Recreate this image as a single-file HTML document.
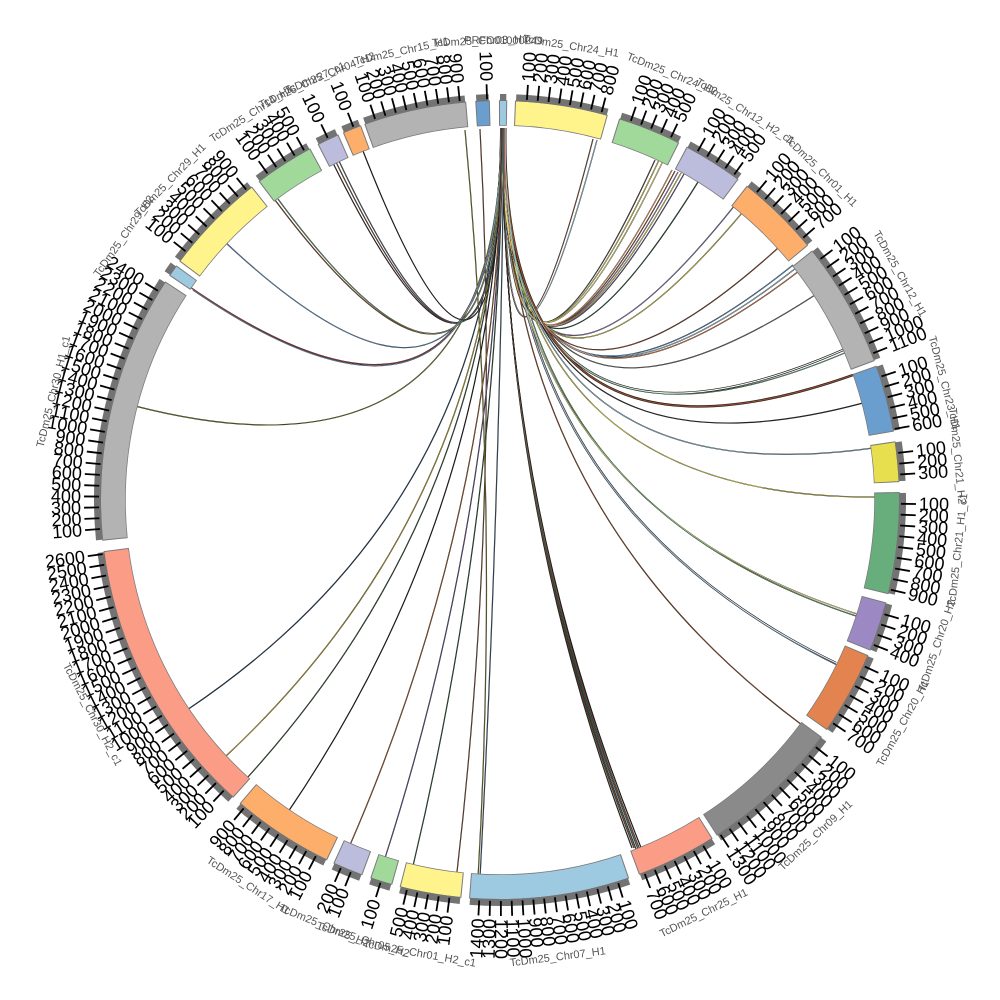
<!DOCTYPE html>
<html><head><meta charset="utf-8">
<style>
html,body{margin:0;padding:0;background:#fff;width:1000px;height:1000px;overflow:hidden}
svg{display:block}
.R text,.L text{font-family:"Liberation Sans",sans-serif;font-size:18px;fill:#000}
.R text{text-anchor:start}
.L text{text-anchor:end}
.R path,.L path{stroke:#000;stroke-width:1.8;fill:none}
.n{font-family:"Liberation Sans",sans-serif;font-size:11px;fill:#555;text-anchor:middle}
</style></head>
<body>
<svg width="1000" height="1000" viewBox="0 0 1000 1000" xmlns="http://www.w3.org/2000/svg">
<rect width="1000" height="1000" fill="#fff"/>

<!-- chords: black under-layer -->
<g fill="none" stroke="#111" stroke-width="1.2">
<path d="M505 128Q500 500 597 140"/>
<path d="M504.6 128Q500 500 593 139"/>
<path d="M504.8 128Q500 500 655 160"/>
<path d="M505.2 128Q500 500 659 160"/>
<path d="M505.4 128Q500 500 663 161"/>
<path d="M504.2 128Q500 500 672 170"/>
<path d="M504.4 128Q500 500 675 171"/>
<path d="M504 128Q500 500 678 172"/>
<path d="M503.8 128Q500 500 681 173"/>
<path d="M503.6 128Q500 500 684 174"/>
<path d="M503.4 128Q500 500 698 182"/>
<path d="M503.2 128Q500 500 735 205"/>
<path d="M503 128Q500 500 742 213"/>
<path d="M502.8 128Q500 500 778 248"/>
<path d="M502.6 128Q500 500 793 265"/>
<path d="M502.4 128Q500 500 796 268"/>
<path d="M502.2 128Q500 500 799 271"/>
<path d="M502 128Q500 500 815 295"/>
<path d="M501.8 128Q500 500 843 350" stroke-width="2.4"/>
<path d="M501.6 128Q500 500 847 352"/>
<path d="M505.3 128Q500 500 853 375" stroke-width="2.4"/>
<path d="M501.4 128Q500 500 863 403"/>
<path d="M501.2 128Q500 500 873 448"/>
<path d="M501 128Q500 500 877 497"/>
<path d="M500.8 128Q500 500 857 614"/>
<path d="M505.1 128Q500 500 859 617"/>
<path d="M504.9 128Q500 500 836 663" stroke-width="2.2"/>
<path d="M504.7 128Q500 500 839 666"/>
<path d="M504.5 128Q500 500 802 725"/>
<path d="M503.9 128Q500 500 632 848"/>
<path d="M503.7 128Q500 500 634 848"/>
<path d="M503.5 128Q500 500 636 849"/>
<path d="M503.3 128Q500 500 638 849"/>
<path d="M503.1 128Q500 500 640 850"/>
<path d="M502.9 128Q500 500 642 850"/>
<path d="M465 130Q500 500 478 878"/>
<path d="M480 129Q500 500 457 872"/>
<path d="M504 128Q500 500 480 878"/>
<path d="M502.7 128Q500 500 413 866"/>
<path d="M502.5 128Q500 500 385 858"/>
<path d="M502.3 128Q500 500 350 845"/>
<path d="M502.1 128Q500 500 288 812"/>
<path d="M501.9 128Q500 500 247 778"/>
<path d="M501.7 128Q500 500 225 757"/>
<path d="M501.5 128Q500 500 187 710"/>
<path d="M501.3 128Q500 500 135 406"/>
<path d="M501.1 128Q500 500 190 287"/>
<path d="M500.9 128Q500 500 193 290"/>
<path d="M500.7 128Q500 500 225 242"/>
<path d="M500.6 128Q500 500 275 200"/>
<path d="M500.8 128Q500 500 278 199"/>
<path d="M501 128Q500 500 333 163"/>
<path d="M501.2 128Q500 500 336 162"/>
<path d="M501.4 128Q500 500 339 161"/>
<path d="M501.6 128Q500 500 363 151"/>
</g>
<!-- chords: colour layer -->
<g fill="none" stroke-width="0.55">
<path d="M505 128Q500 500 597 140" stroke="#9ecae1"/>
<path d="M504.6 128Q500 500 593 139" stroke="#8c5a3c"/>
<path d="M504.8 128Q500 500 655 160" stroke="#555"/>
<path d="M505.2 128Q500 500 659 160" stroke="#e8df4e"/>
<path d="M505.4 128Q500 500 663 161" stroke="#fff38c"/>
<path d="M504.2 128Q500 500 672 170" stroke="#fdae6b"/>
<path d="M504.4 128Q500 500 675 171" stroke="#a0522d"/>
<path d="M504 128Q500 500 678 172" stroke="#9c89c4"/>
<path d="M503.8 128Q500 500 681 173" stroke="#e8df4e"/>
<path d="M503.6 128Q500 500 684 174" stroke="#6a5a9a"/>
<path d="M503.4 128Q500 500 698 182" stroke="#2f5e3a"/>
<path d="M503.2 128Q500 500 735 205" stroke="#9c89c4"/>
<path d="M503 128Q500 500 742 213" stroke="#e8df4e"/>
<path d="M502.8 128Q500 500 778 248" stroke="#a0522d"/>
<path d="M502.6 128Q500 500 793 265" stroke="#6a9ecf"/>
<path d="M502.4 128Q500 500 796 268" stroke="#9ecae1"/>
<path d="M502.2 128Q500 500 799 271" stroke="#e3834f"/>
<path d="M502 128Q500 500 815 295" stroke="#777"/>
<path d="M501.8 128Q500 500 843 350" stroke="#f4f4f4" stroke-width="1.2"/>
<path d="M501.6 128Q500 500 847 352" stroke="#68ae7c"/>
<path d="M505.3 128Q500 500 853 375" stroke="#8c4a2f" stroke-width="1.4"/>
<path d="M501.4 128Q500 500 863 403" stroke="#333"/>
<path d="M501.2 128Q500 500 873 448" stroke="#9ecae1"/>
<path d="M501 128Q500 500 877 497" stroke="#e8df4e"/>
<path d="M500.8 128Q500 500 857 614" stroke="#fff38c"/>
<path d="M505.1 128Q500 500 859 617" stroke="#68ae7c"/>
<path d="M504.9 128Q500 500 836 663" stroke="#e6eef6" stroke-width="1.1"/>
<path d="M504.7 128Q500 500 839 666" stroke="#6a8ea8"/>
<path d="M504.5 128Q500 500 802 725" stroke="#a0522d"/>
<path d="M503.9 128Q500 500 632 848" stroke="#333"/>
<path d="M503.7 128Q500 500 634 848" stroke="#8c4a2f"/>
<path d="M503.5 128Q500 500 636 849" stroke="#2f5e3a"/>
<path d="M503.3 128Q500 500 638 849" stroke="#4a6a80"/>
<path d="M503.1 128Q500 500 640 850" stroke="#a0522d"/>
<path d="M502.9 128Q500 500 642 850" stroke="#222"/>
<path d="M465 130Q500 500 478 878" stroke="#8a8a30"/>
<path d="M480 129Q500 500 457 872" stroke="#8c5a3c"/>
<path d="M504 128Q500 500 480 878" stroke="#4a6a80"/>
<path d="M502.7 128Q500 500 413 866" stroke="#2f5e3a"/>
<path d="M502.5 128Q500 500 385 858" stroke="#6a5a9a"/>
<path d="M502.3 128Q500 500 350 845" stroke="#b0622d"/>
<path d="M502.1 128Q500 500 288 812" stroke="#222"/>
<path d="M501.9 128Q500 500 247 778" stroke="#3a5a3a"/>
<path d="M501.7 128Q500 500 225 757" stroke="#c8b030"/>
<path d="M501.5 128Q500 500 187 710" stroke="#2a4a6a"/>
<path d="M501.3 128Q500 500 135 406" stroke="#8a8a30"/>
<path d="M501.1 128Q500 500 190 287" stroke="#c04030"/>
<path d="M500.9 128Q500 500 193 290" stroke="#6a9ecf"/>
<path d="M500.7 128Q500 500 225 242" stroke="#6a9ecf"/>
<path d="M500.6 128Q500 500 275 200" stroke="#a0522d"/>
<path d="M500.8 128Q500 500 278 199" stroke="#68ae7c"/>
<path d="M501 128Q500 500 333 163" stroke="#333"/>
<path d="M501.2 128Q500 500 336 162" stroke="#8c4a2f"/>
<path d="M501.4 128Q500 500 339 161" stroke="#4a6a80"/>
<path d="M501.6 128Q500 500 363 151" stroke="#222"/>
</g>

<!-- segments -->
<g fill="none">
<circle cx="500" cy="500" r="387" stroke="#7a7a7a" stroke-width="25.5" stroke-dasharray="8.08 3000" transform="rotate(-90.15 500 500)"/>
<circle cx="500" cy="500" r="387" stroke="#9ecae1" stroke-width="24" stroke-dasharray="6.08 3000" transform="rotate(-90 500 500)"/>
<circle cx="500" cy="500" r="402.5" stroke="#737373" stroke-width="7" stroke-dasharray="6.32 3000" transform="rotate(-90 500 500)"/>
<circle cx="500" cy="500" r="387" stroke="#7a7a7a" stroke-width="25.5" stroke-dasharray="91.16 3000" transform="rotate(-87.85 500 500)"/>
<circle cx="500" cy="500" r="387" stroke="#fff38c" stroke-width="24" stroke-dasharray="89.16 3000" transform="rotate(-87.7 500 500)"/>
<circle cx="500" cy="500" r="402.5" stroke="#737373" stroke-width="7" stroke-dasharray="92.73 3000" transform="rotate(-87.7 500 500)"/>
<circle cx="500" cy="500" r="387" stroke="#7a7a7a" stroke-width="25.5" stroke-dasharray="62.79 3000" transform="rotate(-72.65 500 500)"/>
<circle cx="500" cy="500" r="387" stroke="#a1d99b" stroke-width="24" stroke-dasharray="60.79 3000" transform="rotate(-72.5 500 500)"/>
<circle cx="500" cy="500" r="402.5" stroke="#737373" stroke-width="7" stroke-dasharray="63.23 3000" transform="rotate(-72.5 500 500)"/>
<circle cx="500" cy="500" r="387" stroke="#7a7a7a" stroke-width="25.5" stroke-dasharray="59.41 3000" transform="rotate(-62.15 500 500)"/>
<circle cx="500" cy="500" r="387" stroke="#bcbddc" stroke-width="24" stroke-dasharray="57.41 3000" transform="rotate(-62 500 500)"/>
<circle cx="500" cy="500" r="402.5" stroke="#737373" stroke-width="7" stroke-dasharray="59.71 3000" transform="rotate(-62 500 500)"/>
<circle cx="500" cy="500" r="387" stroke="#7a7a7a" stroke-width="25.5" stroke-dasharray="83.05 3000" transform="rotate(-51.85 500 500)"/>
<circle cx="500" cy="500" r="387" stroke="#fdae6b" stroke-width="24" stroke-dasharray="81.05 3000" transform="rotate(-51.7 500 500)"/>
<circle cx="500" cy="500" r="402.5" stroke="#737373" stroke-width="7" stroke-dasharray="84.3 3000" transform="rotate(-51.7 500 500)"/>
<circle cx="500" cy="500" r="387" stroke="#7a7a7a" stroke-width="25.5" stroke-dasharray="123.58 3000" transform="rotate(-38.65 500 500)"/>
<circle cx="500" cy="500" r="387" stroke="#b3b3b3" stroke-width="24" stroke-dasharray="121.58 3000" transform="rotate(-38.5 500 500)"/>
<circle cx="500" cy="500" r="402.5" stroke="#737373" stroke-width="7" stroke-dasharray="126.45 3000" transform="rotate(-38.5 500 500)"/>
<circle cx="500" cy="500" r="387" stroke="#7a7a7a" stroke-width="25.5" stroke-dasharray="66.17 3000" transform="rotate(-19.65 500 500)"/>
<circle cx="500" cy="500" r="387" stroke="#6a9ecf" stroke-width="24" stroke-dasharray="64.17 3000" transform="rotate(-19.5 500 500)"/>
<circle cx="500" cy="500" r="402.5" stroke="#737373" stroke-width="7" stroke-dasharray="66.74 3000" transform="rotate(-19.5 500 500)"/>
<circle cx="500" cy="500" r="387" stroke="#7a7a7a" stroke-width="25.5" stroke-dasharray="39.82 3000" transform="rotate(-8.45 500 500)"/>
<circle cx="500" cy="500" r="387" stroke="#e8df4e" stroke-width="24" stroke-dasharray="37.82 3000" transform="rotate(-8.3 500 500)"/>
<circle cx="500" cy="500" r="402.5" stroke="#737373" stroke-width="7" stroke-dasharray="39.34 3000" transform="rotate(-8.3 500 500)"/>
<circle cx="500" cy="500" r="387" stroke="#7a7a7a" stroke-width="25.5" stroke-dasharray="99.94 3000" transform="rotate(-1.15 500 500)"/>
<circle cx="500" cy="500" r="387" stroke="#68ae7c" stroke-width="24" stroke-dasharray="97.94 3000" transform="rotate(-1 500 500)"/>
<circle cx="500" cy="500" r="402.5" stroke="#737373" stroke-width="7" stroke-dasharray="101.86 3000" transform="rotate(-1 500 500)"/>
<circle cx="500" cy="500" r="387" stroke="#7a7a7a" stroke-width="25.5" stroke-dasharray="49.28 3000" transform="rotate(14.85 500 500)"/>
<circle cx="500" cy="500" r="387" stroke="#9c89c4" stroke-width="24" stroke-dasharray="47.28 3000" transform="rotate(15 500 500)"/>
<circle cx="500" cy="500" r="402.5" stroke="#737373" stroke-width="7" stroke-dasharray="49.18 3000" transform="rotate(15 500 500)"/>
<circle cx="500" cy="500" r="387" stroke="#7a7a7a" stroke-width="25.5" stroke-dasharray="83.05 3000" transform="rotate(22.85 500 500)"/>
<circle cx="500" cy="500" r="387" stroke="#e3834f" stroke-width="24" stroke-dasharray="81.05 3000" transform="rotate(23 500 500)"/>
<circle cx="500" cy="500" r="402.5" stroke="#737373" stroke-width="7" stroke-dasharray="84.3 3000" transform="rotate(23 500 500)"/>
<circle cx="500" cy="500" r="387" stroke="#7a7a7a" stroke-width="25.5" stroke-dasharray="140.47 3000" transform="rotate(36.35 500 500)"/>
<circle cx="500" cy="500" r="387" stroke="#8a8a8a" stroke-width="24" stroke-dasharray="138.47 3000" transform="rotate(36.5 500 500)"/>
<circle cx="500" cy="500" r="402.5" stroke="#737373" stroke-width="7" stroke-dasharray="144.01 3000" transform="rotate(36.5 500 500)"/>
<circle cx="500" cy="500" r="387" stroke="#7a7a7a" stroke-width="25.5" stroke-dasharray="79.68 3000" transform="rotate(57.85 500 500)"/>
<circle cx="500" cy="500" r="387" stroke="#fb9c86" stroke-width="24" stroke-dasharray="77.68 3000" transform="rotate(58 500 500)"/>
<circle cx="500" cy="500" r="402.5" stroke="#737373" stroke-width="7" stroke-dasharray="80.79 3000" transform="rotate(58 500 500)"/>
<circle cx="500" cy="500" r="387" stroke="#7a7a7a" stroke-width="25.5" stroke-dasharray="157.35 3000" transform="rotate(71.15 500 500)"/>
<circle cx="500" cy="500" r="387" stroke="#9ecae1" stroke-width="24" stroke-dasharray="155.35 3000" transform="rotate(71.3 500 500)"/>
<circle cx="500" cy="500" r="402.5" stroke="#737373" stroke-width="7" stroke-dasharray="161.58 3000" transform="rotate(71.3 500 500)"/>
<circle cx="500" cy="500" r="387" stroke="#7a7a7a" stroke-width="25.5" stroke-dasharray="60.76 3000" transform="rotate(95.55 500 500)"/>
<circle cx="500" cy="500" r="387" stroke="#fff38c" stroke-width="24" stroke-dasharray="58.76 3000" transform="rotate(95.7 500 500)"/>
<circle cx="500" cy="500" r="402.5" stroke="#737373" stroke-width="7" stroke-dasharray="61.12 3000" transform="rotate(95.7 500 500)"/>
<circle cx="500" cy="500" r="387" stroke="#7a7a7a" stroke-width="25.5" stroke-dasharray="22.26 3000" transform="rotate(105.65 500 500)"/>
<circle cx="500" cy="500" r="387" stroke="#a1d99b" stroke-width="24" stroke-dasharray="20.26 3000" transform="rotate(105.8 500 500)"/>
<circle cx="500" cy="500" r="402.5" stroke="#737373" stroke-width="7" stroke-dasharray="21.08 3000" transform="rotate(105.8 500 500)"/>
<circle cx="500" cy="500" r="387" stroke="#7a7a7a" stroke-width="25.5" stroke-dasharray="30.37 3000" transform="rotate(110.15 500 500)"/>
<circle cx="500" cy="500" r="387" stroke="#bcbddc" stroke-width="24" stroke-dasharray="28.37 3000" transform="rotate(110.3 500 500)"/>
<circle cx="500" cy="500" r="402.5" stroke="#737373" stroke-width="7" stroke-dasharray="29.51 3000" transform="rotate(110.3 500 500)"/>
<circle cx="500" cy="500" r="387" stroke="#7a7a7a" stroke-width="25.5" stroke-dasharray="101.29 3000" transform="rotate(115.65 500 500)"/>
<circle cx="500" cy="500" r="387" stroke="#fdae6b" stroke-width="24" stroke-dasharray="99.29 3000" transform="rotate(115.8 500 500)"/>
<circle cx="500" cy="500" r="402.5" stroke="#737373" stroke-width="7" stroke-dasharray="103.27 3000" transform="rotate(115.8 500 500)"/>
<circle cx="500" cy="500" r="387" stroke="#7a7a7a" stroke-width="25.5" stroke-dasharray="275.55 3000" transform="rotate(131.85 500 500)"/>
<circle cx="500" cy="500" r="387" stroke="#fb9c86" stroke-width="24" stroke-dasharray="273.55 3000" transform="rotate(132 500 500)"/>
<circle cx="500" cy="500" r="402.5" stroke="#737373" stroke-width="7" stroke-dasharray="284.51 3000" transform="rotate(132 500 500)"/>
<circle cx="500" cy="500" r="387" stroke="#7a7a7a" stroke-width="25.5" stroke-dasharray="263.39 3000" transform="rotate(174.15 500 500)"/>
<circle cx="500" cy="500" r="387" stroke="#b3b3b3" stroke-width="24" stroke-dasharray="261.39 3000" transform="rotate(174.3 500 500)"/>
<circle cx="500" cy="500" r="402.5" stroke="#737373" stroke-width="7" stroke-dasharray="271.87 3000" transform="rotate(174.3 500 500)"/>
<circle cx="500" cy="500" r="387" stroke="#7a7a7a" stroke-width="25.5" stroke-dasharray="12.13 3000" transform="rotate(214.15 500 500)"/>
<circle cx="500" cy="500" r="387" stroke="#9ecae1" stroke-width="24" stroke-dasharray="10.13 3000" transform="rotate(214.3 500 500)"/>
<circle cx="500" cy="500" r="402.5" stroke="#737373" stroke-width="7" stroke-dasharray="10.54 3000" transform="rotate(214.3 500 500)"/>
<circle cx="500" cy="500" r="387" stroke="#7a7a7a" stroke-width="25.5" stroke-dasharray="101.29 3000" transform="rotate(216.65 500 500)"/>
<circle cx="500" cy="500" r="387" stroke="#fff38c" stroke-width="24" stroke-dasharray="99.29 3000" transform="rotate(216.8 500 500)"/>
<circle cx="500" cy="500" r="402.5" stroke="#737373" stroke-width="7" stroke-dasharray="103.27 3000" transform="rotate(216.8 500 500)"/>
<circle cx="500" cy="500" r="387" stroke="#7a7a7a" stroke-width="25.5" stroke-dasharray="59.41 3000" transform="rotate(232.85 500 500)"/>
<circle cx="500" cy="500" r="387" stroke="#a1d99b" stroke-width="24" stroke-dasharray="57.41 3000" transform="rotate(233 500 500)"/>
<circle cx="500" cy="500" r="402.5" stroke="#737373" stroke-width="7" stroke-dasharray="59.71 3000" transform="rotate(233 500 500)"/>
<circle cx="500" cy="500" r="387" stroke="#7a7a7a" stroke-width="25.5" stroke-dasharray="22.26 3000" transform="rotate(242.85 500 500)"/>
<circle cx="500" cy="500" r="387" stroke="#bcbddc" stroke-width="24" stroke-dasharray="20.26 3000" transform="rotate(243 500 500)"/>
<circle cx="500" cy="500" r="402.5" stroke="#737373" stroke-width="7" stroke-dasharray="21.08 3000" transform="rotate(243 500 500)"/>
<circle cx="500" cy="500" r="387" stroke="#7a7a7a" stroke-width="25.5" stroke-dasharray="18.89 3000" transform="rotate(246.85 500 500)"/>
<circle cx="500" cy="500" r="387" stroke="#fdae6b" stroke-width="24" stroke-dasharray="16.89 3000" transform="rotate(247 500 500)"/>
<circle cx="500" cy="500" r="402.5" stroke="#737373" stroke-width="7" stroke-dasharray="17.56 3000" transform="rotate(247 500 500)"/>
<circle cx="500" cy="500" r="387" stroke="#7a7a7a" stroke-width="25.5" stroke-dasharray="101.29 3000" transform="rotate(250.15 500 500)"/>
<circle cx="500" cy="500" r="387" stroke="#b3b3b3" stroke-width="24" stroke-dasharray="99.29 3000" transform="rotate(250.3 500 500)"/>
<circle cx="500" cy="500" r="402.5" stroke="#737373" stroke-width="7" stroke-dasharray="103.27 3000" transform="rotate(250.3 500 500)"/>
<circle cx="500" cy="500" r="387" stroke="#7a7a7a" stroke-width="25.5" stroke-dasharray="14.16 3000" transform="rotate(266.45 500 500)"/>
<circle cx="500" cy="500" r="387" stroke="#6a9ecf" stroke-width="24" stroke-dasharray="12.16 3000" transform="rotate(266.6 500 500)"/>
<circle cx="500" cy="500" r="402.5" stroke="#737373" stroke-width="7" stroke-dasharray="12.65 3000" transform="rotate(266.6 500 500)"/>
</g>

<!-- ticks & tick labels: right half -->
<g class="R" transform="rotate(-86.152 500 500)"><path d="M901 500h15"/><text x="919" y="506">100</text>
<g transform="rotate(1.548 500 500)"><path d="M901 500h15"/><text x="919" y="506">200</text>
<g transform="rotate(1.548 500 500)"><path d="M901 500h15"/><text x="919" y="506">300</text>
<g transform="rotate(1.548 500 500)"><path d="M901 500h15"/><text x="919" y="506">400</text>
<g transform="rotate(1.548 500 500)"><path d="M901 500h15"/><text x="919" y="506">500</text>
<g transform="rotate(1.548 500 500)"><path d="M901 500h15"/><text x="919" y="506">600</text>
<g transform="rotate(1.548 500 500)"><path d="M901 500h15"/><text x="919" y="506">700</text>
<g transform="rotate(1.548 500 500)"><path d="M901 500h15"/><text x="919" y="506">800</text>
</g></g></g></g></g></g></g></g>
<g class="R" transform="rotate(-70.952 500 500)"><path d="M901 500h15"/><text x="919" y="506">100</text>
<g transform="rotate(1.548 500 500)"><path d="M901 500h15"/><text x="919" y="506">200</text>
<g transform="rotate(1.548 500 500)"><path d="M901 500h15"/><text x="919" y="506">300</text>
<g transform="rotate(1.548 500 500)"><path d="M901 500h15"/><text x="919" y="506">400</text>
<g transform="rotate(1.548 500 500)"><path d="M901 500h15"/><text x="919" y="506">500</text>
</g></g></g></g></g>
<g class="R" transform="rotate(-60.452 500 500)"><path d="M901 500h15"/><text x="919" y="506">100</text>
<g transform="rotate(1.548 500 500)"><path d="M901 500h15"/><text x="919" y="506">200</text>
<g transform="rotate(1.548 500 500)"><path d="M901 500h15"/><text x="919" y="506">300</text>
<g transform="rotate(1.548 500 500)"><path d="M901 500h15"/><text x="919" y="506">400</text>
<g transform="rotate(1.548 500 500)"><path d="M901 500h15"/><text x="919" y="506">500</text>
</g></g></g></g></g>
<g class="R" transform="rotate(-50.152 500 500)"><path d="M901 500h15"/><text x="919" y="506">100</text>
<g transform="rotate(1.548 500 500)"><path d="M901 500h15"/><text x="919" y="506">200</text>
<g transform="rotate(1.548 500 500)"><path d="M901 500h15"/><text x="919" y="506">300</text>
<g transform="rotate(1.548 500 500)"><path d="M901 500h15"/><text x="919" y="506">400</text>
<g transform="rotate(1.548 500 500)"><path d="M901 500h15"/><text x="919" y="506">500</text>
<g transform="rotate(1.548 500 500)"><path d="M901 500h15"/><text x="919" y="506">600</text>
<g transform="rotate(1.548 500 500)"><path d="M901 500h15"/><text x="919" y="506">700</text>
</g></g></g></g></g></g></g>
<g class="R" transform="rotate(-36.952 500 500)"><path d="M901 500h15"/><text x="919" y="506">100</text>
<g transform="rotate(1.548 500 500)"><path d="M901 500h15"/><text x="919" y="506">200</text>
<g transform="rotate(1.548 500 500)"><path d="M901 500h15"/><text x="919" y="506">300</text>
<g transform="rotate(1.548 500 500)"><path d="M901 500h15"/><text x="919" y="506">400</text>
<g transform="rotate(1.548 500 500)"><path d="M901 500h15"/><text x="919" y="506">500</text>
<g transform="rotate(1.548 500 500)"><path d="M901 500h15"/><text x="919" y="506">600</text>
<g transform="rotate(1.548 500 500)"><path d="M901 500h15"/><text x="919" y="506">700</text>
<g transform="rotate(1.548 500 500)"><path d="M901 500h15"/><text x="919" y="506">800</text>
<g transform="rotate(1.548 500 500)"><path d="M901 500h15"/><text x="919" y="506">900</text>
<g transform="rotate(1.548 500 500)"><path d="M901 500h15"/><text x="919" y="506">1000</text>
<g transform="rotate(1.548 500 500)"><path d="M901 500h15"/><text x="919" y="506">1100</text>
</g></g></g></g></g></g></g></g></g></g></g>
<g class="R" transform="rotate(-17.952 500 500)"><path d="M901 500h15"/><text x="919" y="506">100</text>
<g transform="rotate(1.548 500 500)"><path d="M901 500h15"/><text x="919" y="506">200</text>
<g transform="rotate(1.548 500 500)"><path d="M901 500h15"/><text x="919" y="506">300</text>
<g transform="rotate(1.548 500 500)"><path d="M901 500h15"/><text x="919" y="506">400</text>
<g transform="rotate(1.548 500 500)"><path d="M901 500h15"/><text x="919" y="506">500</text>
<g transform="rotate(1.548 500 500)"><path d="M901 500h15"/><text x="919" y="506">600</text>
</g></g></g></g></g></g>
<g class="R" transform="rotate(-6.752 500 500)"><path d="M901 500h15"/><text x="919" y="506">100</text>
<g transform="rotate(1.548 500 500)"><path d="M901 500h15"/><text x="919" y="506">200</text>
<g transform="rotate(1.548 500 500)"><path d="M901 500h15"/><text x="919" y="506">300</text>
</g></g></g>
<g class="R" transform="rotate(0.548 500 500)"><path d="M901 500h15"/><text x="919" y="506">100</text>
<g transform="rotate(1.548 500 500)"><path d="M901 500h15"/><text x="919" y="506">200</text>
<g transform="rotate(1.548 500 500)"><path d="M901 500h15"/><text x="919" y="506">300</text>
<g transform="rotate(1.548 500 500)"><path d="M901 500h15"/><text x="919" y="506">400</text>
<g transform="rotate(1.548 500 500)"><path d="M901 500h15"/><text x="919" y="506">500</text>
<g transform="rotate(1.548 500 500)"><path d="M901 500h15"/><text x="919" y="506">600</text>
<g transform="rotate(1.548 500 500)"><path d="M901 500h15"/><text x="919" y="506">700</text>
<g transform="rotate(1.548 500 500)"><path d="M901 500h15"/><text x="919" y="506">800</text>
<g transform="rotate(1.548 500 500)"><path d="M901 500h15"/><text x="919" y="506">900</text>
</g></g></g></g></g></g></g></g></g>
<g class="R" transform="rotate(16.548 500 500)"><path d="M901 500h15"/><text x="919" y="506">100</text>
<g transform="rotate(1.548 500 500)"><path d="M901 500h15"/><text x="919" y="506">200</text>
<g transform="rotate(1.548 500 500)"><path d="M901 500h15"/><text x="919" y="506">300</text>
<g transform="rotate(1.548 500 500)"><path d="M901 500h15"/><text x="919" y="506">400</text>
</g></g></g></g>
<g class="R" transform="rotate(24.548 500 500)"><path d="M901 500h15"/><text x="919" y="506">100</text>
<g transform="rotate(1.548 500 500)"><path d="M901 500h15"/><text x="919" y="506">200</text>
<g transform="rotate(1.548 500 500)"><path d="M901 500h15"/><text x="919" y="506">300</text>
<g transform="rotate(1.548 500 500)"><path d="M901 500h15"/><text x="919" y="506">400</text>
<g transform="rotate(1.548 500 500)"><path d="M901 500h15"/><text x="919" y="506">500</text>
<g transform="rotate(1.548 500 500)"><path d="M901 500h15"/><text x="919" y="506">600</text>
<g transform="rotate(1.548 500 500)"><path d="M901 500h15"/><text x="919" y="506">700</text>
</g></g></g></g></g></g></g>
<g class="R" transform="rotate(38.048 500 500)"><path d="M901 500h15"/><text x="919" y="506">100</text>
<g transform="rotate(1.548 500 500)"><path d="M901 500h15"/><text x="919" y="506">200</text>
<g transform="rotate(1.548 500 500)"><path d="M901 500h15"/><text x="919" y="506">300</text>
<g transform="rotate(1.548 500 500)"><path d="M901 500h15"/><text x="919" y="506">400</text>
<g transform="rotate(1.548 500 500)"><path d="M901 500h15"/><text x="919" y="506">500</text>
<g transform="rotate(1.548 500 500)"><path d="M901 500h15"/><text x="919" y="506">600</text>
<g transform="rotate(1.548 500 500)"><path d="M901 500h15"/><text x="919" y="506">700</text>
<g transform="rotate(1.548 500 500)"><path d="M901 500h15"/><text x="919" y="506">800</text>
<g transform="rotate(1.548 500 500)"><path d="M901 500h15"/><text x="919" y="506">900</text>
<g transform="rotate(1.548 500 500)"><path d="M901 500h15"/><text x="919" y="506">1000</text>
<g transform="rotate(1.548 500 500)"><path d="M901 500h15"/><text x="919" y="506">1100</text>
<g transform="rotate(1.548 500 500)"><path d="M901 500h15"/><text x="919" y="506">1200</text>
<g transform="rotate(1.548 500 500)"><path d="M901 500h15"/><text x="919" y="506">1300</text>
</g></g></g></g></g></g></g></g></g></g></g></g></g>
<g class="R" transform="rotate(59.548 500 500)"><path d="M901 500h15"/><text x="919" y="506">100</text>
<g transform="rotate(1.548 500 500)"><path d="M901 500h15"/><text x="919" y="506">200</text>
<g transform="rotate(1.548 500 500)"><path d="M901 500h15"/><text x="919" y="506">300</text>
<g transform="rotate(1.548 500 500)"><path d="M901 500h15"/><text x="919" y="506">400</text>
<g transform="rotate(1.548 500 500)"><path d="M901 500h15"/><text x="919" y="506">500</text>
<g transform="rotate(1.548 500 500)"><path d="M901 500h15"/><text x="919" y="506">600</text>
<g transform="rotate(1.548 500 500)"><path d="M901 500h15"/><text x="919" y="506">700</text>
</g></g></g></g></g></g></g>
<g class="R" transform="rotate(72.848 500 500)"><path d="M901 500h15"/><text x="919" y="506">100</text>
<g transform="rotate(1.548 500 500)"><path d="M901 500h15"/><text x="919" y="506">200</text>
<g transform="rotate(1.548 500 500)"><path d="M901 500h15"/><text x="919" y="506">300</text>
<g transform="rotate(1.548 500 500)"><path d="M901 500h15"/><text x="919" y="506">400</text>
<g transform="rotate(1.548 500 500)"><path d="M901 500h15"/><text x="919" y="506">500</text>
<g transform="rotate(1.548 500 500)"><path d="M901 500h15"/><text x="919" y="506">600</text>
<g transform="rotate(1.548 500 500)"><path d="M901 500h15"/><text x="919" y="506">700</text>
<g transform="rotate(1.548 500 500)"><path d="M901 500h15"/><text x="919" y="506">800</text>
<g transform="rotate(1.548 500 500)"><path d="M901 500h15"/><text x="919" y="506">900</text>
<g transform="rotate(1.548 500 500)"><path d="M901 500h15"/><text x="919" y="506">1000</text>
<g transform="rotate(1.548 500 500)"><path d="M901 500h15"/><text x="919" y="506">1100</text>
<g transform="rotate(1.548 500 500)"><path d="M901 500h15"/><text x="919" y="506">1200</text>
</g></g></g></g></g></g></g></g></g></g></g></g>

<!-- left half -->
<g class="L" transform="rotate(271.424 500 500)"><path d="M99 500h-15"/><text x="81" y="506">1300</text>
<g transform="rotate(1.548 500 500)"><path d="M99 500h-15"/><text x="81" y="506">1400</text>
</g></g>
<g class="L" transform="rotate(277.248 500 500)"><path d="M99 500h-15"/><text x="81" y="506">100</text>
<g transform="rotate(1.548 500 500)"><path d="M99 500h-15"/><text x="81" y="506">200</text>
<g transform="rotate(1.548 500 500)"><path d="M99 500h-15"/><text x="81" y="506">300</text>
<g transform="rotate(1.548 500 500)"><path d="M99 500h-15"/><text x="81" y="506">400</text>
<g transform="rotate(1.548 500 500)"><path d="M99 500h-15"/><text x="81" y="506">500</text>
</g></g></g></g></g>
<g class="L" transform="rotate(287.348 500 500)"><path d="M99 500h-15"/><text x="81" y="506">100</text></g>
<g class="L" transform="rotate(291.848 500 500)"><path d="M99 500h-15"/><text x="81" y="506">100</text>
<g transform="rotate(1.548 500 500)"><path d="M99 500h-15"/><text x="81" y="506">200</text>
</g></g>
<g class="L" transform="rotate(297.348 500 500)"><path d="M99 500h-15"/><text x="81" y="506">100</text>
<g transform="rotate(1.548 500 500)"><path d="M99 500h-15"/><text x="81" y="506">200</text>
<g transform="rotate(1.548 500 500)"><path d="M99 500h-15"/><text x="81" y="506">300</text>
<g transform="rotate(1.548 500 500)"><path d="M99 500h-15"/><text x="81" y="506">400</text>
<g transform="rotate(1.548 500 500)"><path d="M99 500h-15"/><text x="81" y="506">500</text>
<g transform="rotate(1.548 500 500)"><path d="M99 500h-15"/><text x="81" y="506">600</text>
<g transform="rotate(1.548 500 500)"><path d="M99 500h-15"/><text x="81" y="506">700</text>
<g transform="rotate(1.548 500 500)"><path d="M99 500h-15"/><text x="81" y="506">800</text>
<g transform="rotate(1.548 500 500)"><path d="M99 500h-15"/><text x="81" y="506">900</text>
</g></g></g></g></g></g></g></g></g>
<g class="L" transform="rotate(313.548 500 500)"><path d="M99 500h-15"/><text x="81" y="506">100</text>
<g transform="rotate(1.548 500 500)"><path d="M99 500h-15"/><text x="81" y="506">200</text>
<g transform="rotate(1.548 500 500)"><path d="M99 500h-15"/><text x="81" y="506">300</text>
<g transform="rotate(1.548 500 500)"><path d="M99 500h-15"/><text x="81" y="506">400</text>
<g transform="rotate(1.548 500 500)"><path d="M99 500h-15"/><text x="81" y="506">500</text>
<g transform="rotate(1.548 500 500)"><path d="M99 500h-15"/><text x="81" y="506">600</text>
<g transform="rotate(1.548 500 500)"><path d="M99 500h-15"/><text x="81" y="506">700</text>
<g transform="rotate(1.548 500 500)"><path d="M99 500h-15"/><text x="81" y="506">800</text>
<g transform="rotate(1.548 500 500)"><path d="M99 500h-15"/><text x="81" y="506">900</text>
<g transform="rotate(1.548 500 500)"><path d="M99 500h-15"/><text x="81" y="506">1000</text>
<g transform="rotate(1.548 500 500)"><path d="M99 500h-15"/><text x="81" y="506">1100</text>
<g transform="rotate(1.548 500 500)"><path d="M99 500h-15"/><text x="81" y="506">1200</text>
<g transform="rotate(1.548 500 500)"><path d="M99 500h-15"/><text x="81" y="506">1300</text>
<g transform="rotate(1.548 500 500)"><path d="M99 500h-15"/><text x="81" y="506">1400</text>
<g transform="rotate(1.548 500 500)"><path d="M99 500h-15"/><text x="81" y="506">1500</text>
<g transform="rotate(1.548 500 500)"><path d="M99 500h-15"/><text x="81" y="506">1600</text>
<g transform="rotate(1.548 500 500)"><path d="M99 500h-15"/><text x="81" y="506">1700</text>
<g transform="rotate(1.548 500 500)"><path d="M99 500h-15"/><text x="81" y="506">1800</text>
<g transform="rotate(1.548 500 500)"><path d="M99 500h-15"/><text x="81" y="506">1900</text>
<g transform="rotate(1.548 500 500)"><path d="M99 500h-15"/><text x="81" y="506">2000</text>
<g transform="rotate(1.548 500 500)"><path d="M99 500h-15"/><text x="81" y="506">2100</text>
<g transform="rotate(1.548 500 500)"><path d="M99 500h-15"/><text x="81" y="506">2200</text>
<g transform="rotate(1.548 500 500)"><path d="M99 500h-15"/><text x="81" y="506">2300</text>
<g transform="rotate(1.548 500 500)"><path d="M99 500h-15"/><text x="81" y="506">2400</text>
<g transform="rotate(1.548 500 500)"><path d="M99 500h-15"/><text x="81" y="506">2500</text>
<g transform="rotate(1.548 500 500)"><path d="M99 500h-15"/><text x="81" y="506">2600</text>
</g></g></g></g></g></g></g></g></g></g></g></g></g></g></g></g></g></g></g></g></g></g></g></g></g></g>
<g class="L" transform="rotate(355.848 500 500)"><path d="M99 500h-15"/><text x="81" y="506">100</text>
<g transform="rotate(1.548 500 500)"><path d="M99 500h-15"/><text x="81" y="506">200</text>
<g transform="rotate(1.548 500 500)"><path d="M99 500h-15"/><text x="81" y="506">300</text>
<g transform="rotate(1.548 500 500)"><path d="M99 500h-15"/><text x="81" y="506">400</text>
<g transform="rotate(1.548 500 500)"><path d="M99 500h-15"/><text x="81" y="506">500</text>
<g transform="rotate(1.548 500 500)"><path d="M99 500h-15"/><text x="81" y="506">600</text>
<g transform="rotate(1.548 500 500)"><path d="M99 500h-15"/><text x="81" y="506">700</text>
<g transform="rotate(1.548 500 500)"><path d="M99 500h-15"/><text x="81" y="506">800</text>
<g transform="rotate(1.548 500 500)"><path d="M99 500h-15"/><text x="81" y="506">900</text>
<g transform="rotate(1.548 500 500)"><path d="M99 500h-15"/><text x="81" y="506">1000</text>
<g transform="rotate(1.548 500 500)"><path d="M99 500h-15"/><text x="81" y="506">1100</text>
<g transform="rotate(1.548 500 500)"><path d="M99 500h-15"/><text x="81" y="506">1200</text>
<g transform="rotate(1.548 500 500)"><path d="M99 500h-15"/><text x="81" y="506">1300</text>
<g transform="rotate(1.548 500 500)"><path d="M99 500h-15"/><text x="81" y="506">1400</text>
<g transform="rotate(1.548 500 500)"><path d="M99 500h-15"/><text x="81" y="506">1500</text>
<g transform="rotate(1.548 500 500)"><path d="M99 500h-15"/><text x="81" y="506">1600</text>
<g transform="rotate(1.548 500 500)"><path d="M99 500h-15"/><text x="81" y="506">1700</text>
<g transform="rotate(1.548 500 500)"><path d="M99 500h-15"/><text x="81" y="506">1800</text>
<g transform="rotate(1.548 500 500)"><path d="M99 500h-15"/><text x="81" y="506">1900</text>
<g transform="rotate(1.548 500 500)"><path d="M99 500h-15"/><text x="81" y="506">2000</text>
<g transform="rotate(1.548 500 500)"><path d="M99 500h-15"/><text x="81" y="506">2100</text>
<g transform="rotate(1.548 500 500)"><path d="M99 500h-15"/><text x="81" y="506">2200</text>
<g transform="rotate(1.548 500 500)"><path d="M99 500h-15"/><text x="81" y="506">2300</text>
<g transform="rotate(1.548 500 500)"><path d="M99 500h-15"/><text x="81" y="506">2400</text>
</g></g></g></g></g></g></g></g></g></g></g></g></g></g></g></g></g></g></g></g></g></g></g></g>
<g class="L" transform="rotate(398.348 500 500)"><path d="M99 500h-15"/><text x="81" y="506">100</text>
<g transform="rotate(1.548 500 500)"><path d="M99 500h-15"/><text x="81" y="506">200</text>
<g transform="rotate(1.548 500 500)"><path d="M99 500h-15"/><text x="81" y="506">300</text>
<g transform="rotate(1.548 500 500)"><path d="M99 500h-15"/><text x="81" y="506">400</text>
<g transform="rotate(1.548 500 500)"><path d="M99 500h-15"/><text x="81" y="506">500</text>
<g transform="rotate(1.548 500 500)"><path d="M99 500h-15"/><text x="81" y="506">600</text>
<g transform="rotate(1.548 500 500)"><path d="M99 500h-15"/><text x="81" y="506">700</text>
<g transform="rotate(1.548 500 500)"><path d="M99 500h-15"/><text x="81" y="506">800</text>
<g transform="rotate(1.548 500 500)"><path d="M99 500h-15"/><text x="81" y="506">900</text>
</g></g></g></g></g></g></g></g></g>
<g class="L" transform="rotate(414.548 500 500)"><path d="M99 500h-15"/><text x="81" y="506">100</text>
<g transform="rotate(1.548 500 500)"><path d="M99 500h-15"/><text x="81" y="506">200</text>
<g transform="rotate(1.548 500 500)"><path d="M99 500h-15"/><text x="81" y="506">300</text>
<g transform="rotate(1.548 500 500)"><path d="M99 500h-15"/><text x="81" y="506">400</text>
<g transform="rotate(1.548 500 500)"><path d="M99 500h-15"/><text x="81" y="506">500</text>
</g></g></g></g></g>
<g class="L" transform="rotate(424.548 500 500)"><path d="M99 500h-15"/><text x="81" y="506">100</text></g>
<g class="L" transform="rotate(428.548 500 500)"><path d="M99 500h-15"/><text x="81" y="506">100</text></g>
<g class="L" transform="rotate(431.848 500 500)"><path d="M99 500h-15"/><text x="81" y="506">100</text>
<g transform="rotate(1.548 500 500)"><path d="M99 500h-15"/><text x="81" y="506">200</text>
<g transform="rotate(1.548 500 500)"><path d="M99 500h-15"/><text x="81" y="506">300</text>
<g transform="rotate(1.548 500 500)"><path d="M99 500h-15"/><text x="81" y="506">400</text>
<g transform="rotate(1.548 500 500)"><path d="M99 500h-15"/><text x="81" y="506">500</text>
<g transform="rotate(1.548 500 500)"><path d="M99 500h-15"/><text x="81" y="506">600</text>
<g transform="rotate(1.548 500 500)"><path d="M99 500h-15"/><text x="81" y="506">700</text>
<g transform="rotate(1.548 500 500)"><path d="M99 500h-15"/><text x="81" y="506">800</text>
<g transform="rotate(1.548 500 500)"><path d="M99 500h-15"/><text x="81" y="506">900</text>
</g></g></g></g></g></g></g></g></g>
<g class="L" transform="rotate(448.148 500 500)"><path d="M99 500h-15"/><text x="81" y="506">100</text></g>

<!-- chromosome names -->
<text class="n" x="500" y="44" transform="rotate(0.45 500 500)">PRFC01000249</text>
<text class="n" x="500" y="44" transform="rotate(8.9 500 500)">TcDm25_Chr24_H1</text>
<text class="n" x="500" y="44" transform="rotate(22 500 500)">TcDm25_Chr24_H2</text>
<text class="n" x="500" y="44" transform="rotate(32.25 500 500)">TcDm25_Chr12_H2_c1</text>
<text class="n" x="500" y="44" transform="rotate(44.3 500 500)">TcDm25_Chr01_H1</text>
<text class="n" x="500" y="44" transform="rotate(60.5 500 500)">TcDm25_Chr12_H1</text>
<text class="n" x="500" y="44" transform="rotate(75.25 500 500)">TcDm25_Chr23_H1</text>
<text class="n" x="500" y="44" transform="rotate(84.5 500 500)">TcDm25_Chr21_H2</text>
<text class="n" x="500" y="964" transform="rotate(-83.75 500 500)">TcDm25_Chr21_H1_c1</text>
<text class="n" x="500" y="964" transform="rotate(-71.5 500 500)">TcDm25_Chr20_H2</text>
<text class="n" x="500" y="964" transform="rotate(-61 500 500)">TcDm25_Chr20_H1</text>
<text class="n" x="500" y="964" transform="rotate(-43.25 500 500)">TcDm25_Chr09_H1</text>
<text class="n" x="500" y="964" transform="rotate(-26.25 500 500)">TcDm25_Chr25_H1</text>
<text class="n" x="500" y="964" transform="rotate(-7.2 500 500)">TcDm25_Chr07_H1</text>
<text class="n" x="500" y="964" transform="rotate(10.05 500 500)">TcDm25_Chr01_H2_c1</text>
<text class="n" x="500" y="964" transform="rotate(17.3 500 500)">TcDm25_Chr05_H2</text>
<text class="n" x="500" y="964" transform="rotate(22.4 500 500)">TcDm25_Chr25_H2</text>
<text class="n" x="500" y="964" transform="rotate(33.15 500 500)">TcDm25_Chr17_H1</text>
<text class="n" x="500" y="964" transform="rotate(62.25 500 500)">TcDm25_Chr30_H2_c1</text>
<text class="n" x="500" y="44" transform="rotate(-76.35 500 500)">TcDm25_Chr30_H1_c1</text>
<text class="n" x="500" y="44" transform="rotate(-54.95 500 500)">TcDm25_Chr29_H2</text>
<text class="n" x="500" y="44" transform="rotate(-45.85 500 500)">TcDm25_Chr29_H1</text>
<text class="n" x="500" y="44" transform="rotate(-32.75 500 500)">TcDm25_Chr14_H1</text>
<text class="n" x="500" y="44" transform="rotate(-25.5 500 500)">TcDm25_Chr27_c1</text>
<text class="n" x="500" y="44" transform="rotate(-21.75 500 500)">TcDm25_Chr04_H2</text>
<text class="n" x="500" y="44" transform="rotate(-12.35 500 500)">TcDm25_Chr15_H1</text>
<text class="n" x="500" y="44" transform="rotate(-2.5 500 500)">TcDm25_Chr03_H1</text>
</svg>
</body></html>
